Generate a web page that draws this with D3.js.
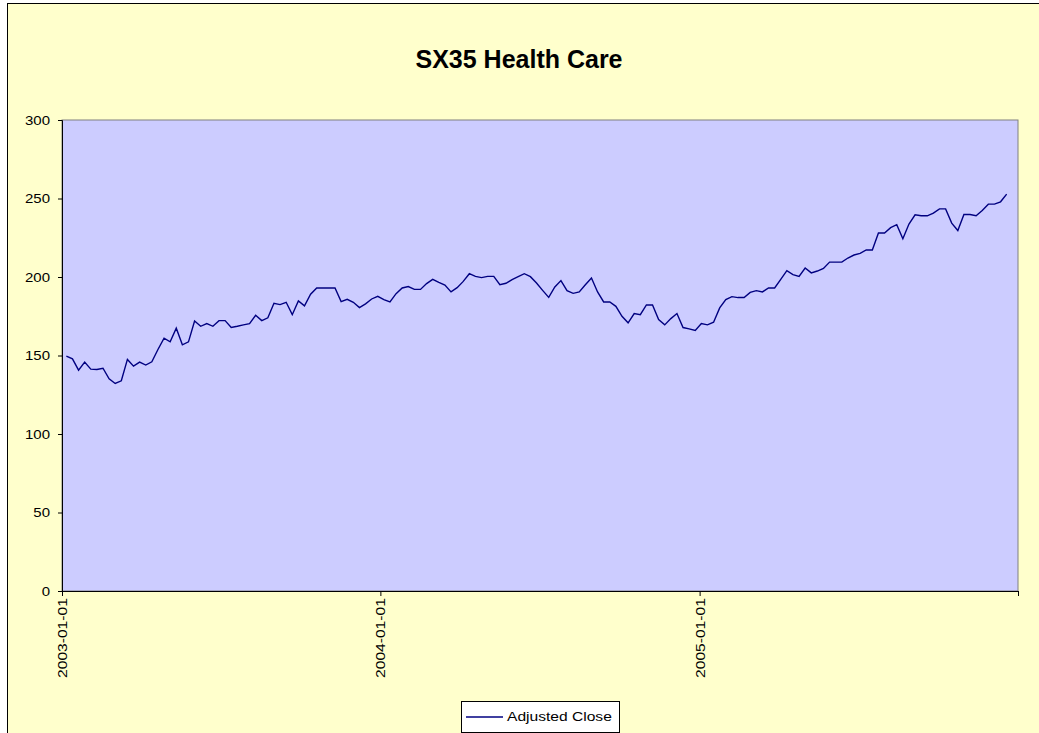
<!DOCTYPE html>
<html>
<head>
<meta charset="utf-8">
<script src="https://cdn.jsdelivr.net/npm/d3@7"></script>
<style>
  body { margin: 0; background: #fff; }
  svg { display: block; font-family: "Liberation Sans", Arial, sans-serif; }
</style>
</head>
<body>
<svg id="chart" width="1039" height="733"></svg>
<script>
// weekly adjusted close, first week 2003-01-06
let firstWeek = "2003-01-06"
let closes = [
  149.6, 147.9, 140.7, 145.8, 141.3, 141.1, 141.9, 135.2, 132.2, 133.9,
  147.5, 143.2, 145.8, 143.9, 146.0, 153.8, 161.0, 158.7, 167.4, 156.8,
  158.7, 172.0, 168.6, 170.3, 168.6, 172.2, 172.2, 167.8, 168.6, 169.5,
  170.3, 175.6, 172.2, 174.0, 183.3, 182.4, 183.9, 176.0, 184.8, 181.6,
  189.0, 193.0, 193.0, 193.0, 193.0, 184.3, 185.8, 183.9, 180.5, 182.9,
  186.0, 187.7, 185.6, 184.1, 189.4, 193.0, 193.9, 192.1, 192.1, 195.8,
  198.5, 196.6, 194.9, 190.5, 193.2, 197.2, 202.1, 200.4, 199.6, 200.4,
  200.4, 195.1, 196.0, 198.3, 200.2, 202.1, 200.2, 196.2, 191.5, 187.0,
  193.7, 197.7, 191.3, 189.6, 190.5, 195.1, 199.4, 190.5, 184.1, 184.1,
  181.3, 175.0, 170.8, 176.7, 176.0, 182.2, 182.2, 172.9, 169.5, 173.5,
  176.7, 167.8, 167.0, 165.9, 170.3, 169.5, 171.2, 180.3, 185.6, 187.5,
  186.9, 186.9, 190.2, 191.3, 190.5, 193.0, 193.0, 198.5, 204.0, 201.5,
  200.4, 205.7, 202.6, 203.8, 205.5, 209.5, 209.5, 209.5, 212.1, 214.0,
  215.0, 217.2, 217.2, 228.0, 228.0, 231.4, 233.3, 224.4, 233.7, 239.6,
  239.0, 239.0, 240.7, 243.4, 243.4, 234.3, 229.6, 239.8, 239.8, 239.0,
  242.4, 246.4, 246.4, 247.9, 252.8
]
let xTickLabels = ["2003-01-01", "2004-01-01", "2005-01-01"]
let xTickEnd = "2006-01-01"
let yTicks = [0, 50, 100, 150, 200, 250, 300]
let titleText = "SX35 Health Care"
let seriesName = "Adjusted Close"

let parse = d3.timeParse("%Y-%m-%d")
let start = parse(firstWeek)
let data = closes.map((v, i) => ({ date: d3.timeDay.offset(start, i * 7), value: v }))

let svg = d3.select('#chart')
let plotLeft = 62, plotRight = 1018, plotTop = 120, plotBottom = 591

// frame
svg.append('rect')
  .attr('x', 7.5).attr('y', 3.5)
  .attr('width', 1045).attr('height', 745)
  .attr('fill', '#FFFFCC').attr('stroke', '#000')

svg.append('text')
  .attr('x', 519).attr('y', 68)
  .attr('text-anchor', 'middle')
  .attr('font-size', 25).attr('font-weight', 'bold')
  .text(titleText)

let x = d3.scaleTime()
  .domain([parse(xTickLabels[0]), parse(xTickEnd)])
  .range([plotLeft, plotRight])
let y = d3.scaleLinear().domain([0, 300]).range([plotBottom, plotTop])

// plot area
svg.append('rect')
  .attr('x', plotLeft).attr('y', plotTop)
  .attr('width', plotRight - plotLeft).attr('height', plotBottom - plotTop)
  .attr('fill', '#CCCCFF').attr('stroke', '#808080')

let line = d3.line()
  .x(d => x(d.date))
  .y(d => y(d.value))

svg.append('path')
  .datum(data)
  .attr('d', line)
  .attr('fill', 'none')
  .attr('stroke', '#000080')
  .attr('stroke-width', 1.4)

// y axis
let yAxis = svg.append('g')
  .attr('transform', `translate(${plotLeft},0)`)
  .call(d3.axisLeft(y).tickValues(yTicks).tickSize(4).tickPadding(0))
yAxis.select('.domain').attr('stroke', '#000')
yAxis.selectAll('text')
  .attr('font-size', 12.5)
  .attr('font-family', '"Liberation Sans", Arial, sans-serif')
  .attr('fill', '#000')
  .attr('x', -10)
  .attr('transform', 'scale(1.2,1)')

// x axis
let xTicks = xTickLabels.concat([xTickEnd]).map(parse)
let xAxis = svg.append('g')
  .attr('transform', `translate(0,${plotBottom})`)
  .call(d3.axisBottom(x).tickValues(xTicks).tickSize(5).tickSizeOuter(0)
    .tickFormat(d => {
      let s = d3.timeFormat("%Y-%m-%d")(d)
      return xTickLabels.includes(s) ? s : ""
    }))
xAxis.select('.domain').attr('stroke', '#000')
xAxis.selectAll('text')
  .attr('font-size', 13)
  .attr('font-family', '"Liberation Sans", Arial, sans-serif')
  .attr('fill', '#000')
  .attr('text-anchor', 'end')
  .attr('transform', 'rotate(-90) scale(1.2,1)')
  .attr('x', -6)
  .attr('y', 0)
  .attr('dy', '0.35em')

// legend
let legend = svg.append('g').attr('transform', 'translate(461,701)')
legend.append('rect')
  .attr('x', 0.5).attr('y', 0.5)
  .attr('width', 158).attr('height', 31)
  .attr('fill', '#FFFFFF').attr('stroke', '#000')
legend.append('line')
  .attr('x1', 5).attr('x2', 42).attr('y1', 16).attr('y2', 16)
  .attr('stroke', '#000080').attr('stroke-width', 1.4)
legend.append('text')
  .attr('x', 46 / 1.2).attr('y', 20)
  .attr('font-size', 13)
  .attr('transform', 'scale(1.2,1)')
  .text(seriesName)
</script>
</body>
</html>
